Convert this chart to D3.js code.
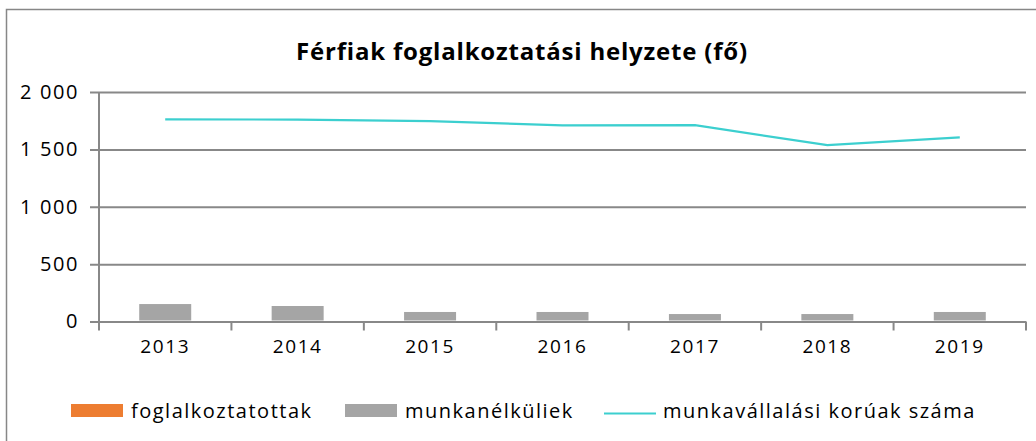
<!DOCTYPE html>
<html>
<head>
<meta charset="utf-8">
<script src="https://cdn.jsdelivr.net/npm/d3@7"></script>
<style>
  body { margin: 0; background: #fff; }
  svg text { font-family: "Open Sans", sans-serif; fill: #000; }
</style>
</head>
<body>
<script>
// chart data
var years = ["2013", "2014", "2015", "2016", "2017", "2018", "2019"];
var employed = [null, null, null, null, null, null, null]; // foglalkoztatottak - no bars shown
var unemployed = [152, 135, 83, 83, 65, 65, 83];           // munkanélküliek
var workingAge = [1761, 1760, 1747, 1710, 1711, 1537, 1604]; // munkavállalási korúak száma
var yTicks = [0, 500, 1000, 1500, 2000];
var seriesNames = ["foglalkoztatottak", "munkanélküliek", "munkavállalási korúak száma"];

var width = 1036, height = 441;

var svg = d3.select("body").append("svg")
  .attr("width", width)
  .attr("height", height);

// chart frame
svg.append("rect")
  .attr("x", 6.5).attr("y", 9.5)
  .attr("width", 1040).attr("height", 450)
  .attr("fill", "none")
  .attr("stroke", "#878787")
  .attr("stroke-width", 1.5);

svg.append("text")
  .attr("x", 522).attr("y", 60)
  .attr("text-anchor", "middle")
  .style("font-size", "24px")
  .style("font-weight", "bold")
  .style("letter-spacing", "0.8px")
  .text("Férfiak foglalkoztatási helyzete (fő)");

var x = d3.scaleBand()
  .domain(years)
  .range([99, 1026]);

var y = d3.scaleLinear()
  .domain([0, 2000])
  .range([321.5, 92]);

// horizontal gridlines + y axis
var yAxis = svg.append("g")
  .attr("transform", "translate(99,0)")
  .call(d3.axisLeft(y).tickValues(yTicks)
    .tickSize(-(1026 - 99)).tickPadding(12)
    .tickFormat(d => d3.format(",")(d).replace(",", " ")));
yAxis.select(".domain").remove();
yAxis.selectAll(".tick line")
  .attr("x1", -9)
  .attr("stroke", "#888").attr("stroke-width", 2);
yAxis.selectAll(".tick text")
  .style("font-size", "20px")
  .style("letter-spacing", "1.6px")
  .attr("x", -20);

svg.append("line")
  .attr("x1", 99).attr("x2", 99)
  .attr("y1", 92).attr("y2", 330)
  .attr("stroke", "#888").attr("stroke-width", 2);

// x axis
var xAxis = svg.append("g")
  .attr("transform", "translate(0,321.5)")
  .call(d3.axisBottom(x).tickSize(0).tickPadding(18));
xAxis.select(".domain").remove();
xAxis.selectAll(".tick text")
  .style("font-size", "19px")
  .style("letter-spacing", "1.6px");
xAxis.selectAll(".sep")
  .data(years.concat(["end"]))
  .enter().append("line")
  .attr("x1", (d, i) => i < years.length ? x(d) : x.range()[1])
  .attr("x2", (d, i) => i < years.length ? x(d) : x.range()[1])
  .attr("y1", 0).attr("y2", 9)
  .attr("stroke", "#888").attr("stroke-width", 2);

// bars
var barW = 52;
svg.append("g").selectAll("rect.unemp")
  .data(unemployed)
  .enter().append("rect")
  .attr("x", (d, i) => x(years[i]) + x.bandwidth() / 2 - barW / 2)
  .attr("y", d => y(d))
  .attr("width", barW)
  .attr("height", d => y(0) - y(d) - 1)
  .attr("fill", "#A5A5A5");

svg.append("g").selectAll("rect.emp")
  .data(employed.filter(d => d != null))
  .enter().append("rect")
  .attr("fill", "#ED7D31");

// line
var line = d3.line()
  .x((d, i) => x(years[i]) + x.bandwidth() / 2)
  .y(d => y(d));
svg.append("path")
  .datum(workingAge)
  .attr("d", line)
  .attr("fill", "none")
  .attr("stroke", "#3CCFCF")
  .attr("stroke-width", 2.2);

// legend
var legend = svg.append("g")
  .style("font-size", "20px")
  .style("letter-spacing", "1.5px");
var items = [
  { name: seriesNames[0], type: "rect", color: "#ED7D31", x: 71, tx: 131 },
  { name: seriesNames[1], type: "rect", color: "#A5A5A5", x: 345, tx: 405 },
  { name: seriesNames[2], type: "line", color: "#3CCFCF", x: 604, tx: 663 }
];
items.forEach(it => {
  if (it.type === "rect") {
    legend.append("rect")
      .attr("x", it.x).attr("y", 404)
      .attr("width", 52).attr("height", 13)
      .attr("fill", it.color);
  } else {
    legend.append("line")
      .attr("x1", it.x).attr("x2", it.x + 52)
      .attr("y1", 413.5).attr("y2", 413.5)
      .attr("stroke", it.color).attr("stroke-width", 2.2);
  }
  legend.append("text")
    .attr("x", it.tx).attr("y", 418)
    .text(it.name);
});
</script>
</body>
</html>
